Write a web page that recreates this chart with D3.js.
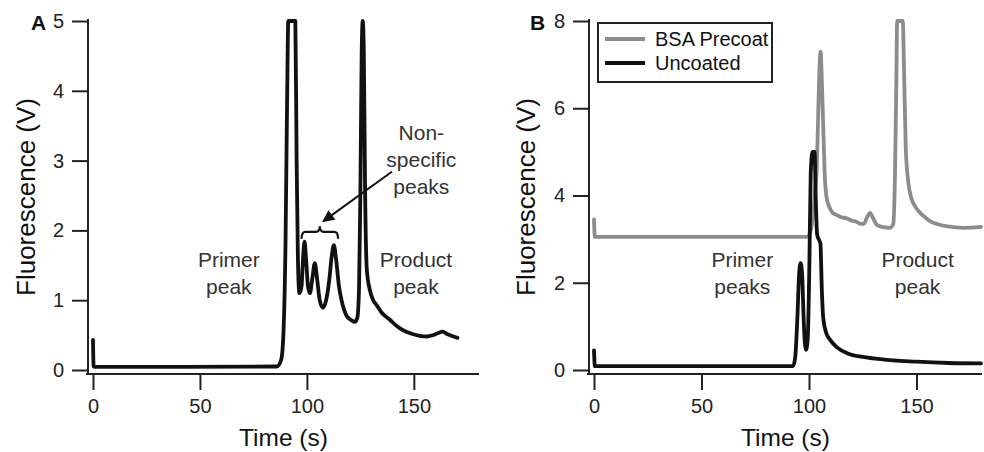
<!DOCTYPE html>
<html>
<head>
<meta charset="utf-8">
<script src="https://cdn.jsdelivr.net/npm/d3@7"></script>
<style>
  html, body { margin: 0; padding: 0; background: #fff; }
  svg { display: block; font-family: "Liberation Sans", Arial, sans-serif; }
  .axis-line { stroke: #222; stroke-width: 2; }
  .tick line { stroke: #222; stroke-width: 2; }
  .tick text { font-size: 20px; fill: #222; }
  .trace { fill: none; stroke-width: 3.8; stroke-linejoin: round; stroke-linecap: round; }
  .note { font-size: 21px; fill: #333; text-anchor: middle; }
</style>
</head>
<body>
<div id="chart"></div>
<script>
  // Panel A: single run
  const aTime = [0, 0.3, 2, 40, 86, 88, 89, 90, 90.8, 91.3, 94.6, 95.2, 95.8, 96.5, 97.5, 98.2, 98.9, 99.6,
    100.5, 101.4, 102.5, 103.7, 104.8, 106, 107.5, 109, 110.5, 111.5, 112.6, 113.6, 115, 116.2, 118.5,
    120.5, 122.4, 123.6, 124.4, 125, 125.6, 126.1, 126.6, 127.2, 128, 129.4, 131, 132.6, 135, 138.8,
    142, 145, 149, 152.8, 156, 159, 161.5, 163.6, 165.3, 166.8, 168.5, 170.4];
  const aFluor = [0.43, 0.05, 0.045, 0.045, 0.05, 0.15, 0.5, 1.8, 4.0, 5.0, 5.0, 3.0, 1.6, 1.1, 1.2, 1.6, 1.84, 1.6,
    1.2, 1.1, 1.3, 1.53, 1.3, 1.0, 0.89, 1.0, 1.3, 1.6, 1.79, 1.6, 1.2, 1.0, 0.78,
    0.72, 0.69, 0.75, 1.2, 2.5, 4.5, 5.0, 4.6, 2.6, 1.45, 1.15, 1.0, 0.93, 0.82, 0.72,
    0.63, 0.57, 0.52, 0.49, 0.48, 0.5, 0.53, 0.55, 0.52, 0.5, 0.48, 0.46];

  // Panel B: BSA precoat vs uncoated
  const bsaTime = [0, 0.4, 50, 99, 100.5, 102, 103, 103.6, 104.2, 104.8, 105.4, 106, 106.6, 107.3, 108.2, 109.8,
    111, 113, 115, 117.5, 120, 122, 124, 125.5, 127, 128.4, 129.8, 131.5, 134, 137.7, 139.2, 140, 140.6,
    141, 143.6, 144.2, 145, 146.2, 147.4, 150.5, 153.5, 156.7, 160, 164.5, 172, 180];
  const bsaFluor = [3.45, 3.05, 3.05, 3.05, 3.15, 3.6, 4.2, 4.6, 5.7, 6.8, 7.3, 6.6, 5.6, 4.5, 3.95, 3.7,
    3.6, 3.55, 3.5, 3.48, 3.42, 3.4, 3.35, 3.35, 3.5, 3.6, 3.48, 3.33, 3.28, 3.26, 3.35, 4.5, 6.5,
    8.0, 8.0, 6.9, 5.1, 4.3, 3.97, 3.67, 3.52, 3.4, 3.34, 3.29, 3.26, 3.28];
  const uncTime = [0, 0.4, 50, 92.6, 93.6, 94.6, 95.4, 96.1, 96.8, 97.5, 98.1, 98.6, 99.4, 100.2, 100.8, 101.6,
    102.6, 103.1, 103.8, 104.5, 105.3, 106, 106.6, 108, 110, 113, 118, 125, 135, 150, 165, 180];
  const uncFluor = [0.45, 0.09, 0.09, 0.09, 0.3, 1.2, 2.2, 2.45, 2.2, 1.2, 0.6, 0.46, 0.7, 2.5, 4.5, 5.0,
    5.0, 4.0, 3.1, 3.0, 2.9, 1.8, 1.2, 0.85, 0.68, 0.52, 0.38, 0.3, 0.24, 0.19, 0.16, 0.15];

  const seriesB = ['BSA Precoat', 'Uncoated'];
  const colorsB = ['#8c8c8c', '#111'];

  const timeTicks = [0, 50, 100, 150];
  const fluorTicksA = [0, 1, 2, 3, 4, 5];
  const fluorTicksB = [0, 2, 4, 6, 8];

  const width = 984;
  const height = 452;

  const svg = d3.select('#chart').append('svg')
    .attr('width', width)
    .attr('height', height);

  const defs = svg.append('defs');
  defs.append('marker')
    .attr('id', 'arrow')
    .attr('viewBox', '0 0 10 10')
    .attr('refX', 9)
    .attr('refY', 5)
    .attr('markerWidth', 7)
    .attr('markerHeight', 6)
    .attr('markerUnits', 'strokeWidth')
    .attr('orient', 'auto')
    .append('path')
    .attr('d', 'M0,0 L10,5 L0,10 z')
    .attr('fill', '#111');

  /**
   * Draw one panel frame (offset axes, Igor style) and return its scales.
   */
  function panel(opt) {
    const g = svg.append('g');
    const x = d3.scaleLinear().domain([0, 180]).range([opt.x0, opt.x1]);
    const y = d3.scaleLinear().domain([0, opt.yMax]).range([370, 21]);
    const axisX = opt.x0 - 5;
    const axisY = 374;

    g.append('line').attr('class', 'axis-line')
      .attr('x1', axisX).attr('x2', axisX)
      .attr('y1', y(opt.yMax) - 1).attr('y2', axisY);
    g.append('line').attr('class', 'axis-line')
      .attr('x1', axisX - 1).attr('x2', x(180))
      .attr('y1', axisY).attr('y2', axisY);

    const ax = g.append('g')
      .attr('transform', `translate(0,${axisY})`)
      .call(d3.axisBottom(x).tickValues(timeTicks).tickSize(15).tickPadding(10).tickSizeOuter(0));
    ax.select('.domain').remove();

    const ay = g.append('g')
      .attr('transform', `translate(${axisX},0)`)
      .call(d3.axisLeft(y).tickValues(opt.yTicks).tickFormat(d3.format('d'))
        .tickSize(15).tickPadding(9).tickSizeOuter(0));
    ay.select('.domain').remove();

    g.selectAll('.tick text').attr('font-family', null);
    g.selectAll('.axis-line, .tick line').attr('stroke-linecap', 'square');

    g.append('text')
      .attr('x', (opt.x0 + x(180)) / 2 - 2)
      .attr('y', 446)
      .attr('text-anchor', 'middle')
      .attr('font-size', 24.5)
      .attr('fill', '#111')
      .text('Time (s)');

    g.append('text')
      .attr('transform', `translate(${opt.titleX},197) rotate(-90)`)
      .attr('text-anchor', 'middle')
      .attr('font-size', 26)
      .attr('fill', '#111')
      .text('Fluorescence (V)');

    g.append('text')
      .attr('x', opt.labelX)
      .attr('y', 30)
      .attr('font-size', 21)
      .attr('font-weight', 'bold')
      .attr('fill', '#111')
      .text(opt.label);

    return { g, x, y };
  }

  function trace(p, xs, ys, color) {
    const line = d3.line()
      .x(d => p.x(d[0]))
      .y(d => p.y(d[1]))
      .curve(d3.curveMonotoneX);
    p.g.append('path')
      .datum(d3.zip(xs, ys))
      .attr('class', 'trace')
      .attr('stroke', color)
      .attr('d', line);
  }

  function note(p, t, v, lines, color) {
    const txt = p.g.append('text').attr('class', 'note')
      .attr('x', p.x(t))
      .attr('y', p.y(v));
    if (color) txt.attr('fill', color);
    lines.forEach((s, i) => {
      txt.append('tspan').attr('x', p.x(t)).attr('dy', i === 0 ? 0 : 27).text(s);
    });
  }

  // ---- Panel A
  const pA = panel({ x0: 93, x1: 478, yMax: 5, yTicks: fluorTicksA, titleX: 35, labelX: 31, label: 'A' });
  trace(pA, aTime, aFluor, '#111');

  note(pA, 63.5, 1.48, ['Primer', 'peak']);
  note(pA, 151, 1.48, ['Product', 'peak']);
  note(pA, 153.5, 3.3, ['Non-', 'specific', 'peaks'], '#111');

  // Curly brace over the non-specific peaks
  {
    const x1 = pA.x(97.5);
    const x2 = pA.x(114.6);
    const xm = (x1 + x2) / 2;
    const yl = pA.y(1.98);
    const yt = pA.y(1.88);
    const yc = pA.y(2.06);
    const r = 4;
    pA.g.append('path')
      .attr('fill', 'none')
      .attr('stroke', '#111')
      .attr('stroke-width', 2.2)
      .attr('d', `M${x1},${yt} Q${x1},${yl} ${x1 + r},${yl} L${xm - r},${yl} Q${xm},${yl} ${xm},${yc}`
        + ` Q${xm},${yl} ${xm + r},${yl} L${x2 - r},${yl} Q${x2},${yl} ${x2},${yt}`);
  }
  pA.g.append('line')
    .attr('x1', pA.x(139.7)).attr('y1', pA.y(2.84))
    .attr('x2', pA.x(107.6)).attr('y2', pA.y(2.13))
    .attr('stroke', '#111')
    .attr('stroke-width', 2)
    .attr('marker-end', 'url(#arrow)');

  // ---- Panel B
  const pB = panel({ x0: 594, x1: 981, yMax: 8, yTicks: fluorTicksB, titleX: 535, labelX: 530, label: 'B' });
  trace(pB, bsaTime, bsaFluor, colorsB[0]);
  trace(pB, uncTime, uncFluor, colorsB[1]);

  note(pB, 69, 2.36, ['Primer', 'peaks']);
  note(pB, 150.5, 2.36, ['Product', 'peak']);

  // Legend
  const legend = pB.g.append('g').attr('transform', 'translate(598,23)');
  legend.append('rect')
    .attr('width', 174)
    .attr('height', 59)
    .attr('fill', '#fff')
    .attr('stroke', '#222')
    .attr('stroke-width', 2);
  seriesB.forEach((name, i) => {
    const row = legend.append('g').attr('transform', `translate(0,${16 + i * 24})`);
    row.append('line')
      .attr('x1', 7).attr('x2', 47)
      .attr('stroke', colorsB[i])
      .attr('stroke-width', 3.8);
    row.append('text')
      .attr('x', 57)
      .attr('y', 7)
      .attr('font-size', 20)
      .attr('fill', '#111')
      .text(name);
  });
</script>
</body>
</html>
